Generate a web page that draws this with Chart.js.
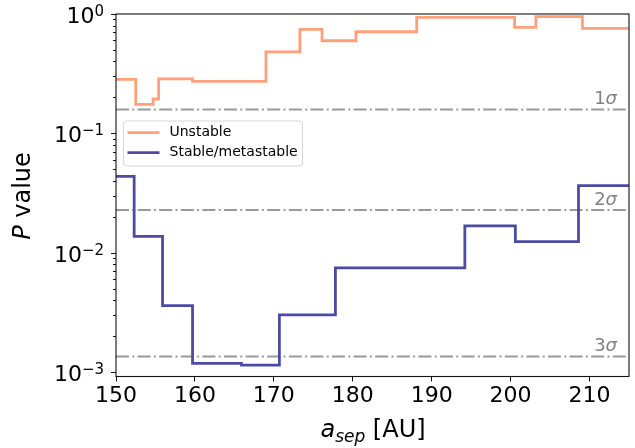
<!DOCTYPE html>
<html>
<head>
<meta charset="utf-8">
<script src="https://cdn.jsdelivr.net/npm/chart.js@4.4.0/dist/chart.umd.min.js"></script>
<style>
  html, body { margin: 0; padding: 0; background: #fff; }
</style>
</head>
<body>
<canvas id="chart" width="635" height="448"></canvas>
<script>
// Data
const xMin = 150, xMax = 215;
const yMin = 0.000916, yMax = 1;

// step edges (value holds until the next edge)
const unstableX = [150, 152.5, 154.7, 155.4, 159.7, 169.0, 173.3, 176.1, 180.4, 188.1, 200.5, 203.2, 209.1, 215];
const unstableP = [0.283, 0.175, 0.194, 0.286, 0.272, 0.482, 0.743, 0.597, 0.710, 0.938, 0.773, 0.949, 0.758, 0.758];

const stableX = [150, 152.3, 155.9, 159.7, 165.9, 170.7, 177.8, 194.2, 200.6, 208.6, 215];
const stableP = [0.0435, 0.0137, 0.00359, 0.00118, 0.00114, 0.00301, 0.00744, 0.01676, 0.01237, 0.0364, 0.0364];

const sigmaP = [0.1587, 0.02275, 0.00135];
const sigmaLabels = ['1σ', '2σ', '3σ'];

const xTicks = [150, 160, 170, 180, 190, 200, 210];
const yTicks = [1, 0.1, 0.01, 0.001];
const yTickExp = ['0', '\u22121', '\u22122', '\u22123'];

const seriesNames = ['Unstable', 'Stable/metastable'];
const seriesColors = ['#ffa07a', '#4b4ba6'];
const sigmaColor = '#999999';
const FONT = 'DejaVu Sans';

function toPoints(xs, ys) {
    return xs.map((x, i) => ({ x: x, y: ys[i] }));
}

// minor ticks of the log axis
function minorTicks() {
    const out = [];
    for (let e = -4; e <= 0; e++) {
        for (let m = 2; m <= 9; m++) {
            const v = m * Math.pow(10, e);
            if (v >= yMin && v <= yMax) out.push(v);
        }
    }
    return out;
}

const datasets = [
    {
        label: seriesNames[0],
        data: toPoints(unstableX, unstableP),
        borderColor: seriesColors[0],
        borderWidth: 2.8,
        stepped: 'before',
        pointRadius: 0,
        fill: false
    },
    {
        label: seriesNames[1],
        data: toPoints(stableX, stableP),
        borderColor: seriesColors[1],
        borderWidth: 2.8,
        stepped: 'before',
        pointRadius: 0,
        fill: false
    }
];
sigmaP.forEach((p, i) => {
    datasets.push({
        label: sigmaLabels[i],
        data: [{ x: xMin, y: p }, { x: xMax, y: p }],
        borderColor: sigmaColor,
        borderWidth: 2,
        borderDash: [13, 3.3, 2, 3.3],
        pointRadius: 0,
        fill: false
    });
});

// Frame, log ticks, titles, sigma labels and legend
const decorPlugin = {
    id: 'decor',
    beforeDraw(chart) {
        const ctx = chart.ctx;
        ctx.save();
        ctx.fillStyle = '#fff';
        ctx.fillRect(0, 0, chart.width, chart.height);
        ctx.restore();
    },
    afterDraw(chart) {
        const ctx = chart.ctx;
        const area = chart.chartArea;
        const ys = chart.scales.y;
        ctx.save();

        // frame
        ctx.strokeStyle = '#111';
        ctx.lineWidth = 1.1;
        ctx.strokeRect(area.left, area.top, area.right - area.left, area.bottom - area.top);

        // y ticks
        ctx.lineWidth = 1;
        minorTicks().forEach(v => {
            const py = Math.round(ys.getPixelForValue(v)) + 0.5;
            ctx.beginPath();
            ctx.moveTo(area.left - 3, py);
            ctx.lineTo(area.left, py);
            ctx.stroke();
        });
        yTicks.forEach((v, i) => {
            const py = Math.round(ys.getPixelForValue(v)) + 0.5;
            ctx.beginPath();
            ctx.moveTo(area.left - 5, py);
            ctx.lineTo(area.left, py);
            ctx.stroke();

            const right = area.left - 12;
            ctx.fillStyle = '#000';
            ctx.textBaseline = 'alphabetic';
            ctx.textAlign = 'right';
            ctx.font = '15px "' + FONT + '"';
            const supW = ctx.measureText(yTickExp[i]).width;
            ctx.fillText(yTickExp[i], right, py + 1);
            ctx.font = '22px "' + FONT + '"';
            ctx.fillText('10', right - supW, py + 8);
        });

        // y title
        ctx.save();
        ctx.translate(24, 196);
        ctx.rotate(-Math.PI / 2);
        ctx.textBaseline = 'middle';
        ctx.textAlign = 'left';
        ctx.font = 'italic 24px "' + FONT + '"';
        const wP = ctx.measureText('P').width;
        ctx.font = '24px "' + FONT + '"';
        const wV = ctx.measureText(' value').width;
        let sx = -(wP + wV) / 2;
        ctx.font = 'italic 24px "' + FONT + '"';
        ctx.fillText('P', sx, 0);
        ctx.font = '24px "' + FONT + '"';
        ctx.fillText(' value', sx + wP, 0);
        ctx.restore();

        // x title
        ctx.textBaseline = 'alphabetic';
        ctx.textAlign = 'left';
        ctx.font = 'italic 24px "' + FONT + '"';
        const wa = ctx.measureText('a').width;
        ctx.font = 'italic 17px "' + FONT + '"';
        const ws = ctx.measureText('sep').width;
        ctx.font = '24px "' + FONT + '"';
        const wu = ctx.measureText(' [AU]').width;
        let tx = 373 - (wa + ws + wu) / 2;
        const base = 437;
        ctx.font = 'italic 24px "' + FONT + '"';
        ctx.fillText('a', tx, base);
        ctx.font = 'italic 17px "' + FONT + '"';
        ctx.fillText('sep', tx + wa, base + 5);
        ctx.font = '24px "' + FONT + '"';
        ctx.fillText(' [AU]', tx + wa + ws, base);

        // sigma labels
        ctx.fillStyle = '#808080';
        ctx.textAlign = 'right';
        ctx.font = '18px "' + FONT + '"';
        sigmaP.forEach((p, i) => {
            const py = ys.getPixelForValue(p);
            const num = sigmaLabels[i].charAt(0);
            ctx.font = 'italic 18px "' + FONT + '"';
            const wS = ctx.measureText('σ').width;
            ctx.fillText('σ', 617, py - 5.5);
            ctx.font = '18px "' + FONT + '"';
            ctx.fillText(num, 617 - wS, py - 5.5);
        });

        // legend
        const lx = 123.5, ly = 121, lw = 179, lh = 45;
        ctx.beginPath();
        ctx.roundRect(lx, ly, lw, lh, 3);
        ctx.fillStyle = 'rgba(255,255,255,0.8)';
        ctx.fill();
        ctx.strokeStyle = '#d6d6d6';
        ctx.lineWidth = 1;
        ctx.stroke();
        seriesNames.forEach((name, i) => {
            const yy = 132.7 + i * 20;
            ctx.strokeStyle = seriesColors[i];
            ctx.lineWidth = 2.8;
            ctx.beginPath();
            ctx.moveTo(127.5, yy);
            ctx.lineTo(159.5, yy);
            ctx.stroke();
            ctx.fillStyle = '#000';
            ctx.textAlign = 'left';
            ctx.textBaseline = 'middle';
            ctx.font = '14px "' + FONT + '"';
            ctx.fillText(name, 169.5, yy);
        });

        ctx.restore();
    }
};

new Chart(document.getElementById('chart').getContext('2d'), {
    type: 'line',
    data: { datasets: datasets },
    options: {
        responsive: false,
        animation: false,
        devicePixelRatio: 1,
        layout: { padding: { left: 116, right: 6, top: 14, bottom: 0 } },
        plugins: {
            legend: { display: false },
            tooltip: { enabled: false }
        },
        scales: {
            x: {
                type: 'linear',
                min: xMin,
                max: xMax,
                afterBuildTicks: scale => { scale.ticks = xTicks.map(v => ({ value: v })); },
                afterFit: scale => { scale.height = 71.5; },
                ticks: {
                    color: '#000',
                    font: { family: FONT, size: 22 },
                    padding: 2,
                    maxRotation: 0
                },
                grid: {
                    drawOnChartArea: false,
                    drawTicks: true,
                    tickLength: 5,
                    color: '#111',
                    lineWidth: 1
                },
                border: { display: false }
            },
            y: {
                type: 'logarithmic',
                display: false,
                min: yMin,
                max: yMax
            }
        }
    },
    plugins: [decorPlugin]
});
</script>
</body>
</html>
